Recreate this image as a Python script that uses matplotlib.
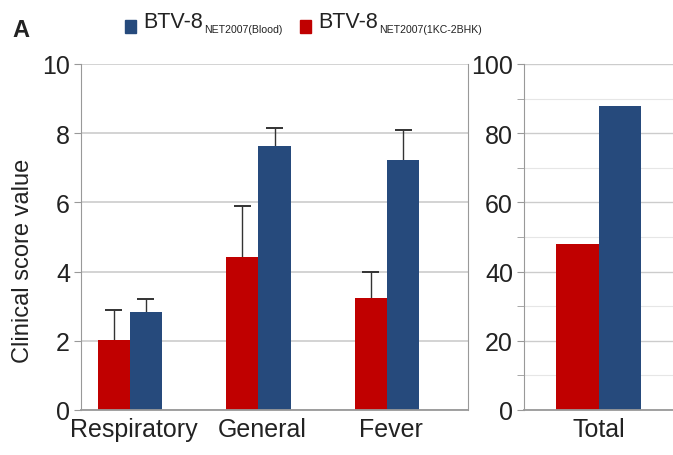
import numpy as np
import matplotlib
matplotlib.use('Agg')
import matplotlib.pyplot as plt
from matplotlib.patches import Rectangle
from matplotlib.ticker import MultipleLocator

plt.rcParams['font.family'] = ['Liberation Sans', 'DejaVu Sans']

categories = ['Respiratory', 'General', 'Fever']
blood_mean = [2.82, 7.62, 7.23]
blood_err = [0.38, 0.52, 0.86]
bhk_mean = [2.03, 4.43, 3.23]
bhk_err = [0.87, 1.47, 0.77]

total_label = ['Total']
blood_total = [88]
bhk_total = [48]

red = '#C00000'
blue = '#264A7C'
grid_c = '#CCCCCC'
spine_c = '#999999'
txt_c = '#222222'
err_c = '#333333'

fig = plt.figure(figsize=(6.73, 4.56), dpi=100, facecolor='w')
W, H = 673.0, 456.0


def upper_err(ax, xs, means, errs, cap):
    tops = np.array(means) + np.array(errs)
    ax.vlines(xs, means, tops, color=err_c, linewidth=1.0, zorder=1)
    ax.hlines(tops, np.array(xs) - cap, np.array(xs) + cap, color=err_c, linewidth=1.4, zorder=1)


# left panel
ax = fig.add_axes([81 / W, 1 - 411 / H, 387 / W, 346 / H])
x = np.arange(len(categories))
w = 0.25
ax.bar(x - w / 2, bhk_mean, w, color=red, zorder=2)
ax.bar(x + w / 2, blood_mean, w, color=blue, zorder=2)
upper_err(ax, x - w / 2, bhk_mean, bhk_err, 0.066)
upper_err(ax, x + w / 2, blood_mean, blood_err, 0.066)
ax.set_xlim(-0.38, 2.63)
ax.set_ylim(0, 10)
ax.set_yticks([0, 2, 4, 6, 8, 10])
ax.yaxis.grid(True, color=grid_c, linewidth=1.2, zorder=0)
ax.set_axisbelow(True)
ax.set_xticks(x + 0.03)
ax.set_xticklabels(categories, fontsize=18, color=txt_c)
ax.tick_params(axis='x', length=0, pad=5)
ax.tick_params(axis='y', length=5, color=spine_c, labelsize=18, labelcolor=txt_c, pad=3)
for s in ['left', 'right', 'bottom']:
    ax.spines[s].set_color(spine_c)
ax.spines['top'].set_visible(False)
ax.spines['bottom'].set_linewidth(1.3)
ax.set_ylabel('Clinical score value', fontsize=17, color=txt_c)
ax.yaxis.set_label_coords(-0.122, 0.434)

# right panel
ax2 = fig.add_axes([524 / W, 1 - 411 / H, 149 / W, 346 / H])
w2 = 0.3
ax2.bar([-w2 / 2], bhk_total, w2, color=red, zorder=2)
ax2.bar([w2 / 2], blood_total, w2, color=blue, zorder=2)
ax2.set_xlim(-0.52, 0.52)
ax2.set_ylim(0, 100)
ax2.yaxis.set_major_locator(MultipleLocator(20))
ax2.yaxis.set_minor_locator(MultipleLocator(10))
ax2.yaxis.grid(True, which='major', color=grid_c, linewidth=1.0, zorder=0)
ax2.yaxis.grid(True, which='minor', color='#E6E6E6', linewidth=0.8, zorder=0)
ax2.set_axisbelow(True)
ax2.set_xticks([0])
ax2.set_xticklabels(total_label, fontsize=18, color=txt_c)
ax2.tick_params(axis='x', length=0, pad=5)
ax2.tick_params(axis='y', which='both', length=5, color=spine_c, labelsize=18, labelcolor=txt_c, pad=3)
for s in ['left', 'bottom']:
    ax2.spines[s].set_color(spine_c)
ax2.spines['bottom'].set_linewidth(1.3)
ax2.spines['top'].set_visible(False)
ax2.spines['right'].set_visible(False)

# panel letter and legend
fig.text(12 / W, 1 - 37 / H, 'A', fontsize=17, fontweight='bold', color=txt_c)
renderer = fig.canvas.get_renderer()
legend_items = [('NET2007(Blood)', blue, 125),
                ('NET2007(1KC-2BHK)', red, 300)]
for sub, col, xsq in legend_items:
    fig.patches.append(Rectangle((xsq / W, 1 - 34 / H), 11 / W, 13 / H,
                                 transform=fig.transFigure, color=col))
    t = fig.text((xsq + 18) / W, 1 - 28 / H, 'BTV-8', fontsize=15.5, color=txt_c,
                 va='baseline')
    bb = t.get_window_extent(renderer)
    fig.text(bb.x1 / W + 1 / W, 1 - 33 / H, sub, fontsize=7.6, color=txt_c,
             va='baseline')

plt.savefig('out.png', dpi=100)
